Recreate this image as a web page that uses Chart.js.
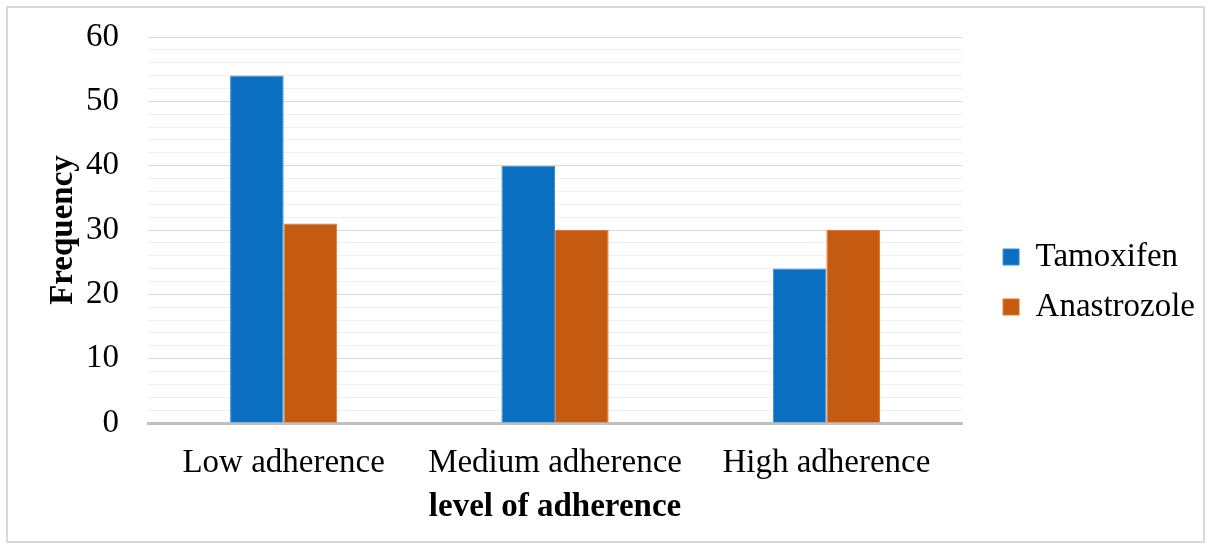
<!DOCTYPE html>
<html>
<head>
<meta charset="utf-8">
<script src="https://cdn.jsdelivr.net/npm/chart.js@4.4.0/dist/chart.umd.min.js"></script>
<style>
  html, body { margin: 0; padding: 0; background: #ffffff; }
  #wrap { position: relative; width: 1213px; height: 552px; }
  #frame {
    position: absolute; left: 6px; top: 6px; width: 1195px; height: 533px;
    border: 2px solid #d9d9d9; pointer-events: none;
  }
  canvas { position: absolute; left: 0; top: 0; }
</style>
</head>
<body>
<div id="wrap">
  <canvas id="adherence-chart" width="1213" height="552"></canvas>
  <div id="frame"></div>
</div>
<script>
// Adherence level by drug — grouped bars
const categories = ['Low adherence', 'Medium adherence', 'High adherence'];
const tamoxifen = [54, 40, 24];
const anastrozole = [31, 30, 30];
const yMin = 0;
const yMax = 60;

const FONT = '"Liberation Serif", "Times New Roman", serif';

new Chart(document.getElementById('adherence-chart'), {
    type: 'bar',
    data: {
        labels: categories,
        datasets: [
            {
                label: 'Tamoxifen',
                data: tamoxifen,
                backgroundColor: '#0a6fc0',
                borderColor: '#3b8dd4',
                borderWidth: 1,
            },
            {
                label: 'Anastrozole',
                data: anastrozole,
                backgroundColor: '#c55a11',
                borderColor: '#e0762c',
                borderWidth: 1,
            },
        ],
    },
    options: {
        responsive: false,
        animation: false,
        categoryPercentage: 0.395,
        barPercentage: 1,
        layout: { padding: { top: 37, bottom: 25, left: 44, right: 8 } },
        plugins: {
            tooltip: { enabled: false },
            legend: {
                position: 'right',
                align: 'center',
                labels: {
                    color: '#000',
                    font: { family: FONT, size: 33 },
                    boxWidth: 16,
                    boxHeight: 16,
                    padding: 17,
                },
            },
        },
        scales: {
            x: {
                grid: { display: false, drawTicks: false },
                border: { display: true, color: '#bfbfbf', width: 3 },
                ticks: { color: '#000', padding: 21, font: { family: FONT, size: 33 } },
                title: {
                    display: true,
                    text: 'level of adherence',
                    color: '#000',
                    font: { family: FONT, size: 33, weight: 'bold' },
                    padding: { top: 0, bottom: 0 },
                },
                afterFit: s => { s.height = 104; },
            },
            y: {
                min: yMin,
                max: yMax,
                grid: {
                    drawTicks: false,
                    color: c => (c.tick && c.tick.value % 10 === 0) ? '#d9d9d9' : '#efefef',
                },
                border: { display: false },
                ticks: {
                    stepSize: 2,
                    autoSkip: false,
                    padding: 29,
                    color: '#000',
                    font: { family: FONT, size: 33 },
                    callback: v => (v % 10 === 0 ? v : ''),
                },
                title: {
                    display: true,
                    text: 'Frequency',
                    color: '#000',
                    font: { family: FONT, size: 33, weight: 'bold' },
                    padding: { top: 0, bottom: 0 },
                },
                afterFit: s => {
                    s.width = 104;
                    // tick padding would otherwise push the plot top down
                    s.paddingTop = 20;
                    s.paddingBottom = 20;
                },
            },
            // hidden spacer between plot and legend
            gap: {
                position: 'right',
                display: false,
                afterFit: s => { s.width = 24; },
            },
        },
    },
});
</script>
</body>
</html>
